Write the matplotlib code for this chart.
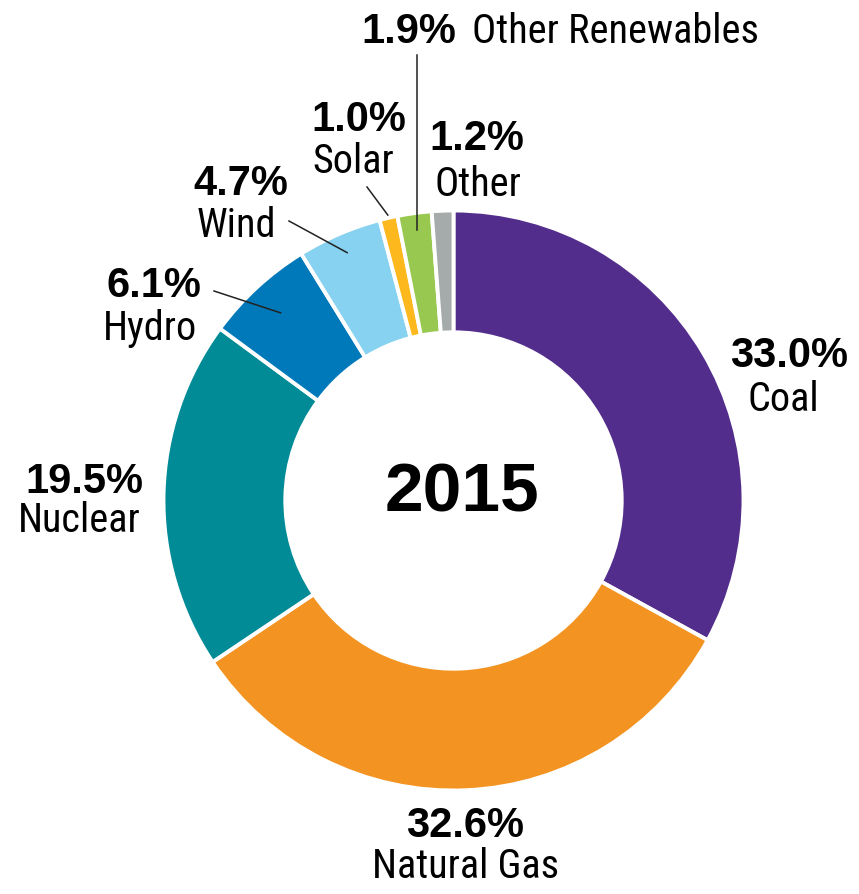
import numpy as np
import matplotlib
matplotlib.use('Agg')
import matplotlib.pyplot as plt
from matplotlib import font_manager

# Дані: частки генерації електроенергії, 2015
sources = ['Coal', 'Natural Gas', 'Nuclear', 'Hydro', 'Wind', 'Solar',
           'Other Renewables', 'Other']
shares = [33.0, 32.6, 19.5, 6.1, 4.7, 1.0, 1.9, 1.2]
colors = ['#522d8b', '#f39422', '#008b96', '#0079ba', '#86d2f0', '#fdb81e',
          '#98c850', '#a5abaa']
year_label = '2015'

bold = ['Liberation Sans', 'DejaVu Sans']


# Шукаємо вузький шрифт (на кшталт Arial Narrow), якщо він є
def find_narrow():
    prefs = ['Liberation Sans Narrow', 'Roboto Condensed', 'Roboto',
             'Open Sans Condensed', 'Open Sans', 'Noto Sans', 'DejaVu Sans']
    cands = []
    for f in font_manager.fontManager.ttflist:
        if f.weight not in (400, 'normal', 'regular') or f.style != 'normal':
            continue
        nm = f.name
        cond = ('Narrow' in nm or 'Condensed' in nm
                or f.stretch in ('condensed', 'semi-condensed')
                or 'Condensed' in f.fname or 'Narrow' in f.fname)
        if 'Extra' in f.fname or 'Ultra' in f.fname or 'Semi' in f.fname:
            continue
        if cond:
            rank = prefs.index(nm) if nm in prefs else len(prefs)
            cands.append((rank, f.fname))
    if cands:
        cands.sort()
        return font_manager.FontProperties(fname=cands[0][1]), 29
    return font_manager.FontProperties(family='Liberation Sans'), 26


narrow_fp, name_fs = find_narrow()

# Геометрія картинки (пікселі)
W, H = 859, 894
CX, CY = 453.5, 500.5
S = 290.0


def px(x, y):
    return (x - CX) / S, (CY - y) / S


fig = plt.figure(figsize=(W / 100, H / 100), dpi=100)
ax = fig.add_axes([0, 0, 1, 1])

wedges, _ = ax.pie(shares, colors=colors, startangle=90, counterclock=False,
                   radius=1.0,
                   wedgeprops=dict(width=0.42, edgecolor='white', linewidth=2.8))

ax.set_xlim(-CX / S, (W - CX) / S)
ax.set_ylim((CY - H) / S, CY / S)
ax.set_aspect('equal')
ax.axis('off')

ax.text(*px(462, 512), year_label, ha='center', va='baseline',
        fontsize=50, fontweight='bold', family=bold)

# Підписи: (центр x відсотка, базова лінія), (центр x назви, базова лінія)
label_pos = {
    'Coal': ((789, 367), (783, 411)),
    'Natural Gas': ((465, 837), (466, 878)),
    'Nuclear': ((84, 493), (79, 532)),
    'Hydro': ((154, 297), (150, 340)),
    'Wind': ((241, 195), (236, 237)),
    'Solar': ((359, 131), (353, 173)),
    'Other': ((477, 150), (478, 196)),
}
pct_fs = 30

for name, val in zip(sources, shares):
    if name not in label_pos:
        continue
    (px1, py1), (px2, py2) = label_pos[name]
    ax.text(*px(px1, py1), f'{val:.1f}%', ha='center', va='baseline',
            fontsize=pct_fs, fontweight='bold', family=bold)
    ax.text(*px(px2, py2), name, ha='center', va='baseline',
            fontproperties=narrow_fp, fontsize=name_fs)

# Other Renewables - в один рядок зверху
i_or = sources.index('Other Renewables')
ax.text(*px(456, 43), f'{shares[i_or]:.1f}%', ha='right', va='baseline',
        fontsize=pct_fs, fontweight='bold', family=bold)
ax.text(*px(472, 43), 'Other Renewables', ha='left', va='baseline',
        fontproperties=narrow_fp, fontsize=name_fs)

# Лінії-виноски: початок біля тексту, кінець у сегменті
leaders = {
    'Hydro': ((214, 291), 0.88),
    'Wind': ((289, 221), 0.93),
    'Solar': ((367, 187), 1.01),
    'Other Renewables': ((417, 55), 0.94),
}
for name, (start, r_end) in leaders.items():
    w = wedges[sources.index(name)]
    mid = np.deg2rad((w.theta1 + w.theta2) / 2)
    x0, y0 = px(*start)
    x1, y1 = r_end * np.cos(mid), r_end * np.sin(mid)
    if name == 'Other Renewables':
        x0 = x1
    ax.plot([x0, x1], [y0, y1], color='#222222', lw=1.1)

fig.savefig('out.png', dpi=100)
